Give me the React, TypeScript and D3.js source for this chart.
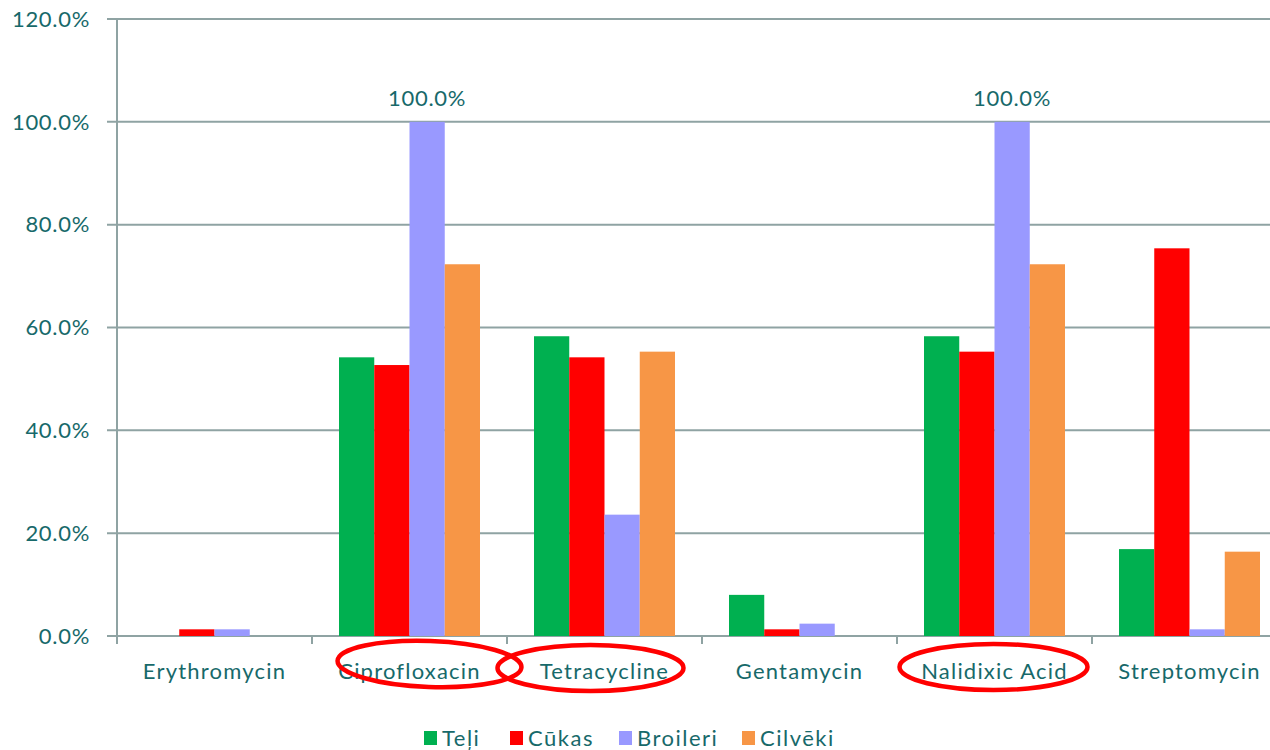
import React from "react";
import * as d3 from "d3";

const categories = ["Erythromycin", "Ciprofloxacin", "Tetracycline", "Gentamycin", "Nalidixic Acid", "Streptomycin"];
const seriesNames = ["Teļi", "Cūkas", "Broileri", "Cilvēki"];
const seriesColors = ["#00b050", "#ff0000", "#9999ff", "#f79646"];
const teli = [0, 54.2, 58.3, 8.0, 58.3, 16.9];
const cukas = [1.3, 52.7, 54.2, 1.3, 55.3, 75.4];
const broileri = [1.3, 100, 23.6, 2.4, 100, 1.3];
const cilveki = [0, 72.3, 55.3, 0, 72.3, 16.4];
const yTicks = [0, 20, 40, 60, 80, 100, 120];
const labelledValue = 100;
const highlighted = ["Ciprofloxacin", "Tetracycline", "Nalidixic Acid"];

const values = [teli, cukas, broileri, cilveki];

const W = 1270;
const H = 750;
const left = 117;
const step = 195;
const right = left + step * categories.length;
const top = 19;
const bottom = 636;
const textColor = "#17696a";
const axisColor = "#8fa3a3";
const font = "Lato, 'Open Sans', sans-serif";

export default function App() {
  const x0 = d3.scaleBand<string>().domain(categories).range([left, right]).padding(0);
  const x1 = d3
    .scaleBand<string>()
    .domain(seriesNames)
    .range([0, x0.bandwidth()])
    .paddingInner(0)
    .paddingOuter(0.766);
  const y = d3.scaleLinear().domain([0, 120]).range([bottom, top]);

  const legendX = [424, 510, 619, 742];
  const ellipseShape: Record<string, { dx: number; dy: number; rx: number; ry: number; rot: number }> = {
    Ciprofloxacin: { dx: 20, dy: 28, rx: 92, ry: 23, rot: 2 },
    Tetracycline: { dx: -14, dy: 32, rx: 93, ry: 23, rot: 0 },
    "Nalidixic Acid": { dx: -1, dy: 31, rx: 94, ry: 23, rot: 0 },
  };

  return (
    <svg
      width={W}
      height={H}
      style={{ position: "absolute", left: 0, top: 0, background: "#fff" }}
      fontFamily={font}
    >
      {/* gridlines with outward ticks */}
      {yTicks.map((t) => (
        <g key={t}>
          <line x1={left - 10} x2={W} y1={y(t)} y2={y(t)} stroke={axisColor} strokeWidth={2} />
          <text
            x={90}
            y={y(t)}
            dy="0.35em"
            textAnchor="end"
            fontSize={22}
            fill={textColor}
            letterSpacing={0.7}
          >
            {d3.format(".1f")(t) + "%"}
          </text>
        </g>
      ))}
      {/* vertical axis */}
      <line x1={left} x2={left} y1={top} y2={bottom + 8} stroke={axisColor} strokeWidth={2} />
      {/* category boundary ticks */}
      {categories.map((c) => (
        <line
          key={c}
          x1={(x0(c) as number) + step}
          x2={(x0(c) as number) + step}
          y1={bottom}
          y2={bottom + 8}
          stroke={axisColor}
          strokeWidth={2}
        />
      ))}
      {/* bars */}
      {categories.map((c, ci) => (
        <g key={c} transform={`translate(${x0(c)},0)`}>
          {seriesNames.map((s, si) => {
            const v = values[si][ci];
            if (v <= 0) return null;
            return (
              <rect
                key={s}
                x={x1(s)}
                y={y(v)}
                width={x1.bandwidth()}
                height={bottom - y(v)}
                fill={seriesColors[si]}
              />
            );
          })}
        </g>
      ))}
      {/* value labels on the 100% bars */}
      {categories.map((c, ci) =>
        broileri[ci] === labelledValue ? (
          <text
            key={c}
            x={(x0(c) as number) + (x1("Broileri") as number) + x1.bandwidth() / 2}
            y={y(broileri[ci]) - 24}
            dy="0.35em"
            textAnchor="middle"
            fontSize={22}
            fill={textColor}
            letterSpacing={0.7}
          >
            {d3.format(".1f")(broileri[ci]) + "%"}
          </text>
        ) : null
      )}
      {/* category labels */}
      {categories.map((c) => (
        <text
          key={c}
          x={(x0(c) as number) + step / 2}
          y={bottom + 35}
          dy="0.35em"
          textAnchor="middle"
          fontSize={22}
          fill={textColor}
          letterSpacing={1.2}
        >
          {c}
        </text>
      ))}
      {/* highlight ellipses */}
      {highlighted.map((c) => {
        const e = ellipseShape[c];
        const cx = (x0(c) as number) + step / 2 + e.dx;
        const cy = bottom + e.dy;
        return (
          <ellipse
            key={c}
            cx={cx}
            cy={cy}
            rx={e.rx}
            ry={e.ry}
            transform={`rotate(${e.rot},${cx},${cy})`}
            fill="none"
            stroke="#ff0000"
            strokeWidth={4.5}
          />
        );
      })}
      {/* legend */}
      {seriesNames.map((s, i) => (
        <g key={s} transform={`translate(${legendX[i]},738)`}>
          <rect x={0} y={-7} width={13} height={14} fill={seriesColors[i]} />
          <text x={18} y={0} dy="0.35em" fontSize={22} fill={textColor} letterSpacing={1.5}>
            {s}
          </text>
        </g>
      ))}
    </svg>
  );
}
